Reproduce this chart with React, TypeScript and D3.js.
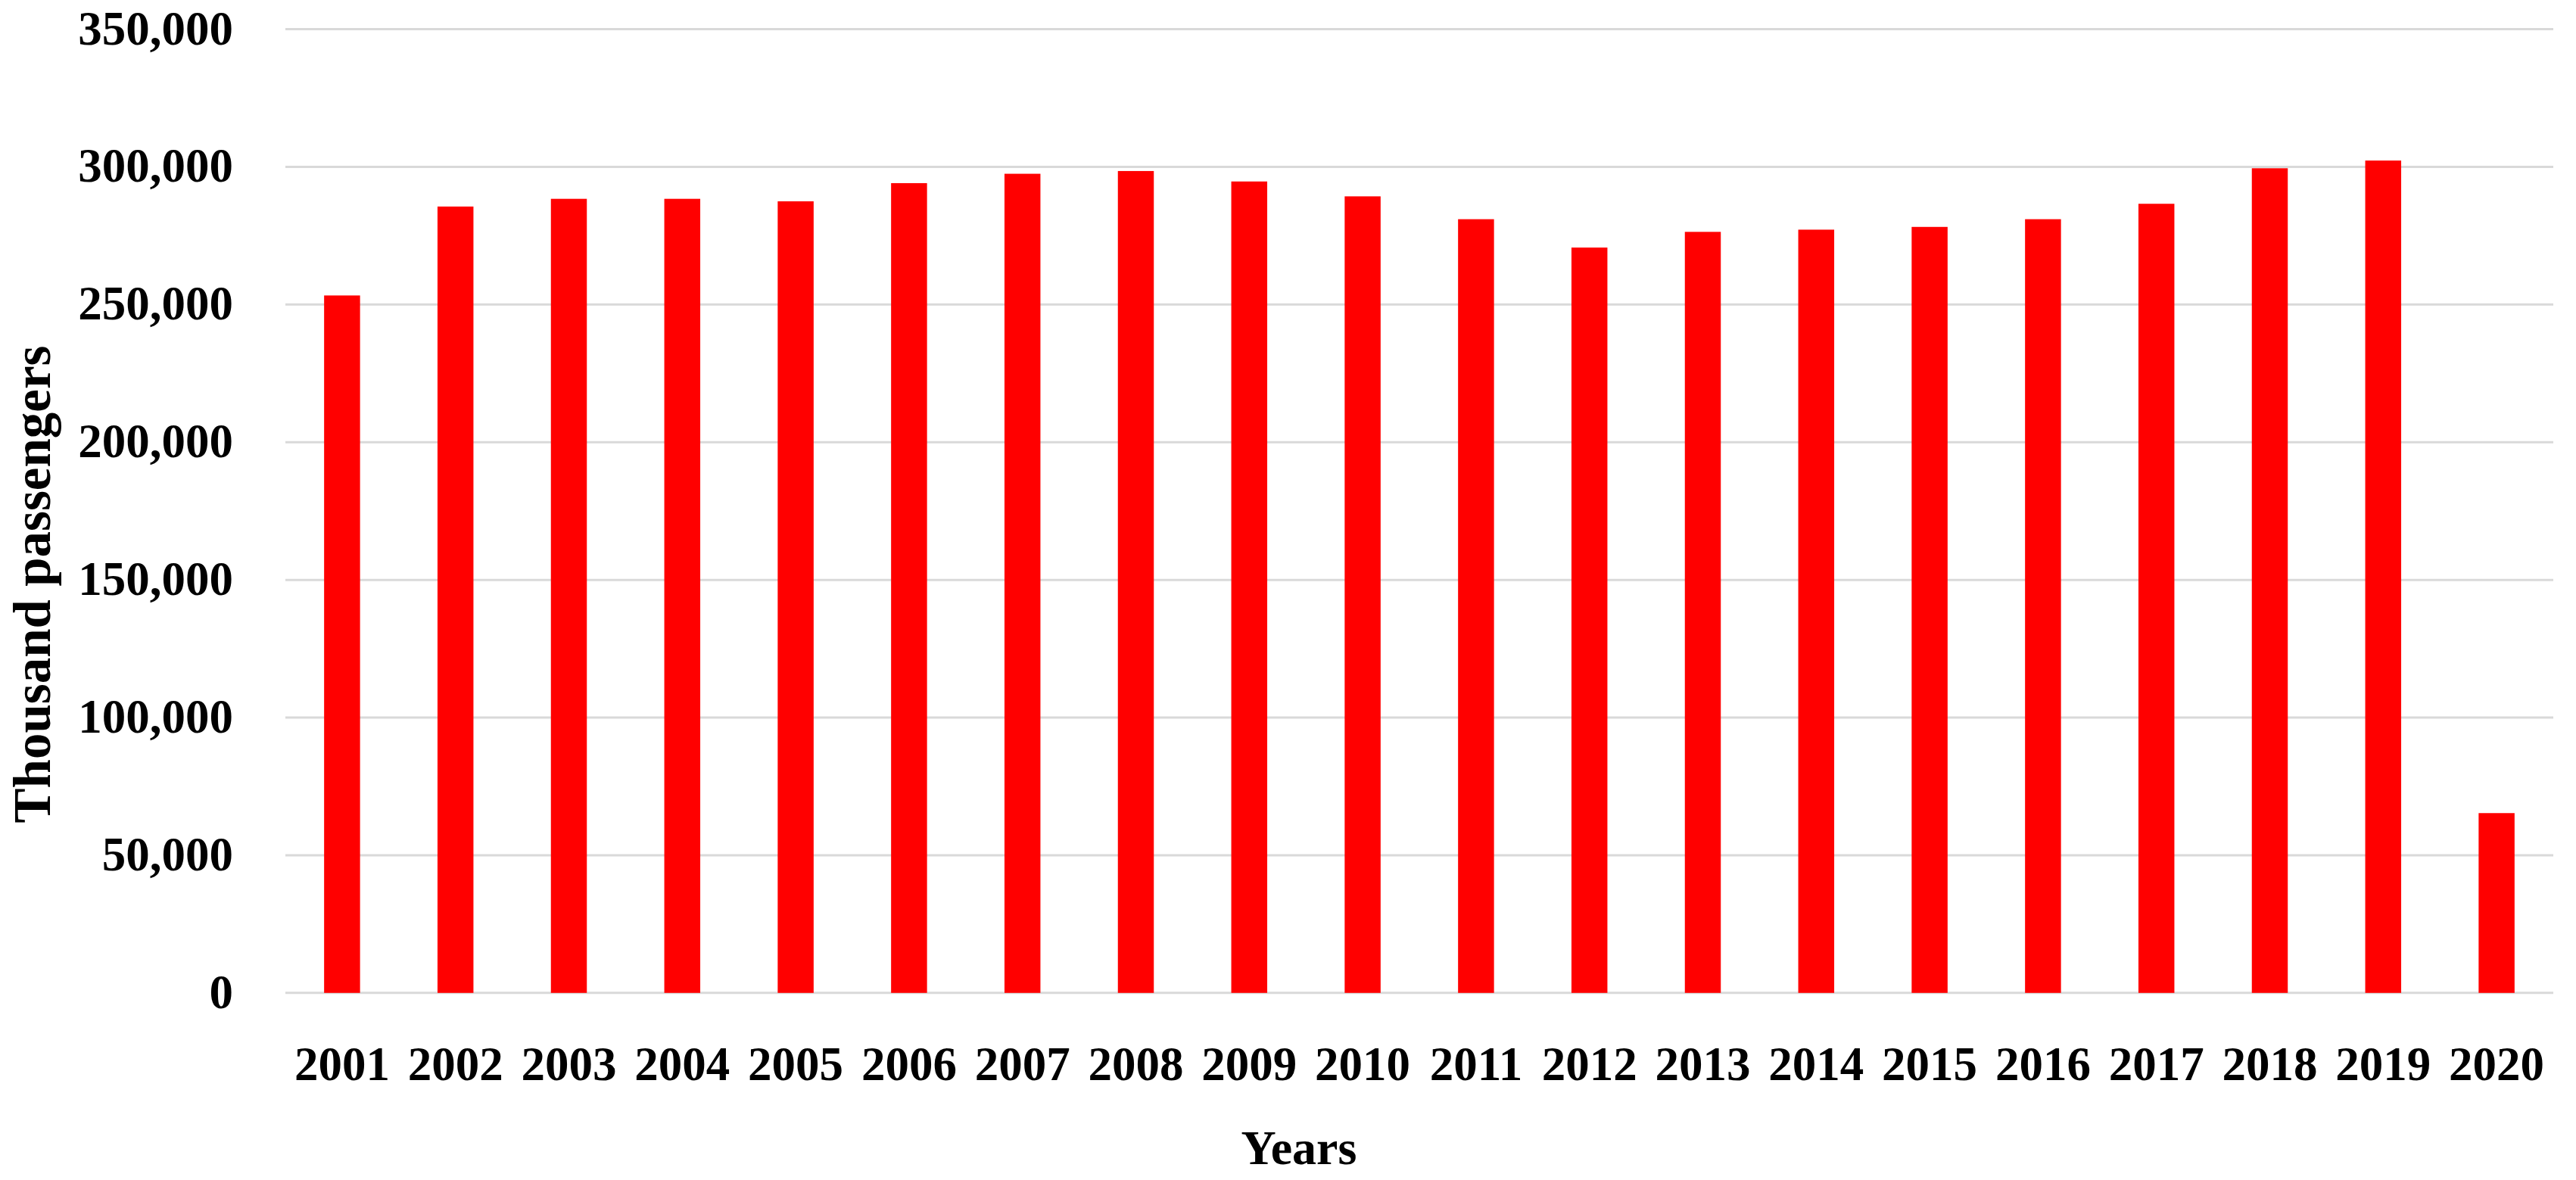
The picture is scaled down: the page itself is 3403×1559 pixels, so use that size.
import React from "react";
import * as d3 from "d3";

const years = ["2001","2002","2003","2004","2005","2006","2007","2008","2009","2010","2011","2012","2013","2014","2015","2016","2017","2018","2019","2020"];
const passengers = [253300,285600,288400,288400,287500,294100,297500,298500,294700,289300,281000,270700,276400,277200,278200,281000,286600,299500,302300,65300];
const yTicks = [0,50000,100000,150000,200000,250000,300000,350000];
const yTitle = "Thousand passengers";
const xTitle = "Years";

const W = 3403, H = 1559;
const left = 377, right = 3373, top = 38.6, bottom = 1311.8;
const font = "'Liberation Serif', 'Times New Roman', serif";

export default function App() {
  const x = d3.scaleBand<string>().domain(years).range([left, right]).paddingInner(0.683).paddingOuter(0.3415);
  const y = d3.scaleLinear().domain([0, 350000]).range([bottom, top]);
  const fmt = d3.format(",");
  return (
    <svg width={W} height={H} style={{ position: "absolute", left: 0, top: 0, background: "#fff" }}>
      <rect x={0} y={0} width={W} height={H} fill="#fff" />
      {yTicks.map((t) => (
        <g key={t}>
          <line x1={left} x2={right} y1={y(t)} y2={y(t)} stroke="#d9d9d9" strokeWidth={3} />
          <text x={308} y={y(t) + 20} textAnchor="end" fontFamily={font} fontWeight="bold" fontSize={63} fill="#000">{fmt(t)}</text>
        </g>
      ))}
      {years.map((yr, i) => (
        <rect key={yr} x={x(yr)} y={y(passengers[i])} width={x.bandwidth()} height={y(0) - y(passengers[i])} fill="#ff0000" />
      ))}
      {years.map((yr) => (
        <text key={"l" + yr} x={(x(yr) as number) + x.bandwidth() / 2} y={1427} textAnchor="middle" fontFamily={font} fontWeight="bold" fontSize={63} fill="#000">{yr}</text>
      ))}
      <text x={1716} y={1538} textAnchor="middle" fontFamily={font} fontWeight="bold" fontSize={64} fill="#000">{xTitle}</text>
      <text transform={`translate(66,772) rotate(-90)`} textAnchor="middle" fontFamily={font} fontWeight="bold" fontSize={69} fill="#000">{yTitle}</text>
    </svg>
  );
}
